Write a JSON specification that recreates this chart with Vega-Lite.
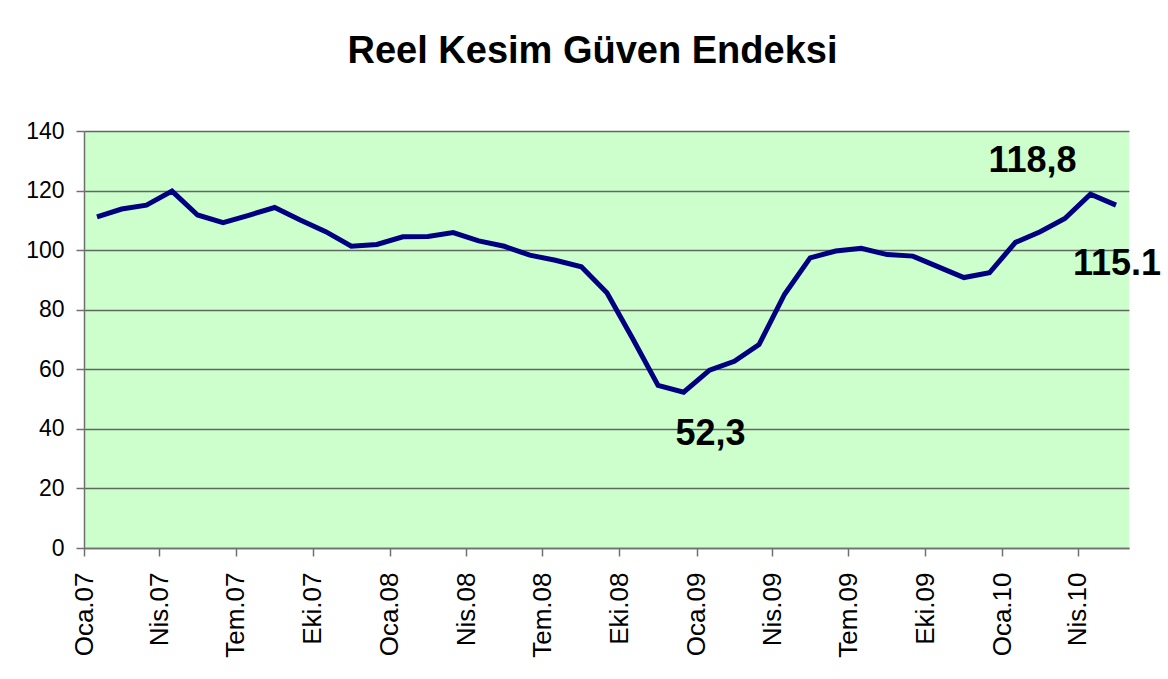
{
  "$schema": "https://vega.github.io/schema/vega-lite/v6.json",
  "width": 1045,
  "height": 417,
  "autosize": {"type": "none"},
  "padding": {"left": 84, "top": 131, "right": 39, "bottom": 131},
  "background": "white",
  "title": {
    "text": "Reel Kesim Güven Endeksi",
    "font": "Liberation Sans",
    "fontSize": 38,
    "fontWeight": "bold",
    "color": "black",
    "anchor": "middle",
    "dx": -14,
    "offset": 19,
    "baseline": "alphabetic"
  },
  "config": {
    "view": {"fill": "#CCFFCC", "stroke": null},
    "font": "Liberation Sans",
    "axis": {
      "labelFont": "Liberation Sans",
      "labelFontSize": 22,
      "labelColor": "black",
      "tickColor": "#707070",
      "tickSize": 8,
      "tickWidth": 1.5,
      "domainColor": "#707070",
      "domainWidth": 1.5,
      "title": null
    }
  },
  "data": {
    "values": [
      {"month": "2007-01", "value": 111.2},
      {"month": "2007-02", "value": 113.8},
      {"month": "2007-03", "value": 115.1},
      {"month": "2007-04", "value": 119.8},
      {"month": "2007-05", "value": 111.8},
      {"month": "2007-06", "value": 109.2},
      {"month": "2007-07", "value": 111.7},
      {"month": "2007-08", "value": 114.3},
      {"month": "2007-09", "value": 110.1},
      {"month": "2007-10", "value": 106.2},
      {"month": "2007-11", "value": 101.3},
      {"month": "2007-12", "value": 101.9},
      {"month": "2008-01", "value": 104.5},
      {"month": "2008-02", "value": 104.6},
      {"month": "2008-03", "value": 105.9},
      {"month": "2008-04", "value": 103.1},
      {"month": "2008-05", "value": 101.3},
      {"month": "2008-06", "value": 98.3},
      {"month": "2008-07", "value": 96.6},
      {"month": "2008-08", "value": 94.4},
      {"month": "2008-09", "value": 85.7},
      {"month": "2008-10", "value": 70.4},
      {"month": "2008-11", "value": 54.6},
      {"month": "2008-12", "value": 52.3, "label": "52,3"},
      {"month": "2009-01", "value": 59.7},
      {"month": "2009-02", "value": 62.7},
      {"month": "2009-03", "value": 68.3},
      {"month": "2009-04", "value": 85.2},
      {"month": "2009-05", "value": 97.4},
      {"month": "2009-06", "value": 99.7},
      {"month": "2009-07", "value": 100.6},
      {"month": "2009-08", "value": 98.5},
      {"month": "2009-09", "value": 98.0},
      {"month": "2009-10", "value": 94.4},
      {"month": "2009-11", "value": 90.8},
      {"month": "2009-12", "value": 92.4},
      {"month": "2010-01", "value": 102.6},
      {"month": "2010-02", "value": 106.2},
      {"month": "2010-03", "value": 110.6},
      {"month": "2010-04", "value": 118.8, "label": "118,8"},
      {"month": "2010-05", "value": 115.1, "label": "115.1"}
    ]
  },
  "encoding": {
    "x": {
      "field": "month",
      "timeUnit": "utcyearmonth",
      "type": "temporal",
      "bandPosition": 0.5,
      "scale": {
        "domain": [
          {"year": 2007, "month": 1, "date": 1, "utc": true},
          {"year": 2010, "month": 6, "date": 1, "utc": true}
        ],
        "nice": false
      },
      "axis": {
        "grid": false,
        "tickCount": {"interval": "month", "step": 3},
        "labelAngle": -90,
        "labelPadding": 16,
        "labelFontSize": 26,
        "labelExpr": "['Oca','Şub','Mar','Nis','May','Haz','Tem','Ağu','Eyl','Eki','Kas','Ara'][utcmonth(datum.value)] + '.' + utcFormat(datum.value, '%y')"
      }
    },
    "y": {
      "field": "value",
      "type": "quantitative",
      "scale": {"domain": [0, 140], "nice": false},
      "axis": {
        "values": [0, 20, 40, 60, 80, 100, 120, 140],
        "grid": true,
        "gridColor": "#606860",
        "gridWidth": 1.5,
        "labelPadding": 12,
        "labelFontSize": 23
      }
    }
  },
  "layer": [
    {
      "mark": {"type": "line", "color": "#000080", "strokeWidth": 5}
    },
    {
      "transform": [{"filter": "datum.label == '118,8'"}],
      "mark": {"type": "text", "font": "Liberation Sans", "fontSize": 36, "fontWeight": "bold", "color": "black", "align": "center", "baseline": "alphabetic", "dx": -58, "dy": -22},
      "encoding": {"text": {"field": "label"}}
    },
    {
      "transform": [{"filter": "datum.label == '115.1'"}],
      "mark": {"type": "text", "font": "Liberation Sans", "fontSize": 36, "fontWeight": "bold", "color": "black", "align": "center", "baseline": "alphabetic", "dx": 1, "dy": 70},
      "encoding": {"text": {"field": "label"}}
    },
    {
      "transform": [{"filter": "datum.label == '52,3'"}],
      "mark": {"type": "text", "font": "Liberation Sans", "fontSize": 36, "fontWeight": "bold", "color": "black", "align": "center", "baseline": "alphabetic", "dx": 27, "dy": 53},
      "encoding": {"text": {"field": "label"}}
    }
  ]
}
